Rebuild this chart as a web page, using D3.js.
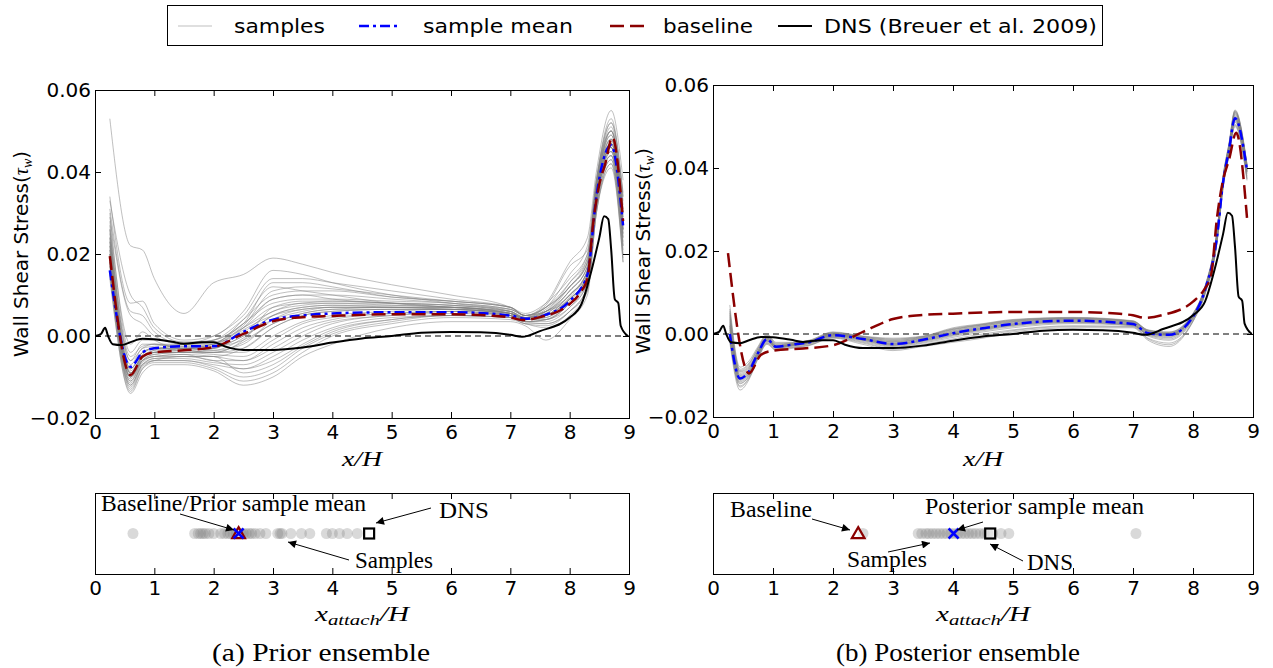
<!DOCTYPE html>
<html><head><meta charset="utf-8">
<script src="https://cdn.jsdelivr.net/npm/d3@7"></script>
<style>body{margin:0;background:#fff}svg{display:block}</style>
</head><body>
<script>
// ================= DATA =================
const xTicks = [0,1,2,3,4,5,6,7,8,9];
const yTicks = [-0.02, 0, 0.02, 0.04, 0.06];
const legendLabels = ["samples", "sample mean", "baseline", "DNS (Breuer et al. 2009)"];
const Y_UNIT = 1e-3; // all wall-shear-stress arrays below are given in units of 1e-3

// prior ensemble (x/H grid shared by samples and sample mean)
const priorGridX = [0.25, 0.6, 0.8, 1.0, 1.5, 2.0, 2.5, 3.0, 3.5, 4.0, 5.0, 6.0, 7.0, 7.25, 7.6, 8.0, 8.3, 8.45, 8.7, 8.9];
const priorSamples = [
  [53, 22, 21, 14, 5.5, 13, 15, 19, 17.5, 15.5, 12.5, 10, 7, 5, 7, 15, 22, 38, 52, 35],
  [34, 8, 8.5, 3, -1, 0, 6, 16, 15, 13, 10, 8, 6, 4, 6, 13, 20, 36, 50, 30],
  [31, 6, 5, 1, -2, -1, 3, 13, 13, 12, 9.5, 8.5, 7, 5, 8, 18, 24, 40, 55, 38],
  [28, -2, 1, -1, -3, -2, 4, 12, 11, 10, 8, 7, 6, 4.5, 7, 12, 18, 35, 48, 26],
  [26, -6, -2, -2, -3, -3, 2, 9, 10, 9, 8, 7.5, 6, 4, 5, 10, 16, 34, 47, 29],
  [24, -8, -4, -3, -3.5, -4, -1, 7, 8.5, 8.5, 8, 7, 5.5, 4, 6, 9, 15, 33, 46, 25],
  [22, -9, -5, -4, -4, -3, 0, 5, 7, 7.5, 7, 6.5, 5.5, 4.5, 5.5, 11, 17, 37, 50, 31],
  [20, -10, -6, -5, -5, -5, -3, 2, 5, 6, 6.5, 6.5, 5, 4, 4, 8, 14, 32, 45, 24],
  [19, -11, -6.5, -5, -4.5, -6, -6, -2, 2, 4, 5.5, 6, 5, 3.5, 4, 7, 13, 33, 44, 22],
  [18, -12, -7, -6, -6, -7, -8, -5, -1, 2, 4.5, 5, 4.5, 3, 3, 6, 12, 31, 43, 20],
  [17, -13, -8, -6.5, -6.5, -8, -11, -9, -4, 0, 3, 4.5, 4, 3, 2, 5, 11, 30, 42, 19],
  [15, -14, -9, -7, -7, -8.5, -12, -10, -5, -2, 2, 3.5, 3.5, 2.5, -1, 4, 10, 30, 41, 18],
  [21, -9.5, -5.5, -4, -3, -2, 3, 8, 9, 9, 8.5, 8, 6.5, 5, 6, 12, 18, 36, 49, 30],
  [23, -8.5, -5, -3.5, -2, -1, 4, 10, 11, 11, 9.5, 8.5, 7, 5, 7, 13, 19, 37, 51, 32],
  [25, -7, -3, -2.5, -2, 0, 5, 14, 14, 13, 11, 9, 7, 5.5, 8, 14, 20, 38, 53, 34],
  [30, -4, -1, -1, -1.5, -1.5, 1, 6, 7.5, 8, 7.5, 7, 6, 4.5, 5, 9, 15, 33, 46, 27],
  [27, -5, -2.5, -2, -2.5, -2.5, -1, 3, 5.5, 6.5, 7, 7, 5.5, 4.5, 6, 10, 16, 35, 48, 28],
  [20, -10.5, -6, -4.5, -4, -4, -4, 0, 3.5, 5, 6, 6.5, 5.5, 4, 5, 9, 14, 34, 46, 26],
  [18, -11.5, -7, -5.5, -5.5, -6.5, -7, -4, 0, 3, 5, 5.5, 5, 3.5, 3.5, 7, 13, 32, 44, 23],
  [16, -12.5, -7.5, -6, -5, -5, -9, -7, -2.5, 1, 4, 5, 4.5, 3, 2.5, 6, 12, 31, 43, 21],
  [14, -13.5, -8, -6, -6, -7.5, -10, -8, -3, 0.5, 3.5, 5, 4.5, 3.5, 4, 8, 13, 33, 45, 24],
  [19, -10, -5, -3.5, -3, -3.5, -2, 4, 6.5, 7, 7, 7, 5.5, 4, 5.5, 10, 16, 35, 47, 28],
  [22, -9, -4.5, -3, -2.5, -2, 2, 6, 8, 8, 8, 7.5, 6, 4.5, 6, 11, 17, 36, 48, 29],
  [17, -11, -6, -4.5, -4, -4.5, -5, -1, 3, 4.5, 5.5, 6, 5, 4, 4.5, 9, 15, 34, 45, 25],
  [24, -8, -4, -3, -3, -3, 1.5, 5, 6.5, 7, 7, 6.5, 5.5, 4.5, 5, 9.5, 16, 35, 47, 27],
  [29, 5, 3, 0, -2, -2, 2, 7, 8, 8.5, 8, 7.5, 6.5, 5, 7, 12, 19, 37, 50, 31],
  [33, 10, 7, 2, -1.5, -1, 3, 9, 10, 10, 9, 8, 6.5, 5, 6, 11, 17, 36, 49, 30],
  [21, -9, -5, -4, -3.5, -3, 0, 4, 6, 7, 7, 7, 5.5, 4, 5, 10, 15, 34, 46, 26],
  [20, -10, -5.5, -4, -3.5, -4, -3, 2, 5, 6, 6.5, 6.5, 5.5, 4.5, 6.5, 12, 18, 36, 50, 33],
  [18, -10, -6, -5, -4.5, -5, -6, -3, 1, 3.5, 5, 6, 5, 3.5, 3, 6, 11, 30, 42, 18],
  [26, -6, -3, -2, -2, -1.5, 2.5, 11, 12, 11.5, 10, 8.5, 7, 5, 7.5, 17, 21, 38, 52, 34],
  [23, -8, -4, -3, -3, -3.5, -0.5, 5, 7, 7.5, 7.5, 7, 5.5, 4, 5, 9, 15, 34, 47, 27],
  [15, -12, -7, -5.5, -5, -6, -8, -6, -2, 1.5, 4, 5, 4.5, 3.5, 4, 8, 14, 33, 44, 22],
  [19, -9, -5, -4, -4, -4, -1.5, 3, 5.5, 6.5, 6.5, 6.5, 5, 4, 4.5, 8.5, 15, 34, 46, 26]
];
const priorMean = [16, -7.5, -4, -3, -2.5, -2.5, 1, 4, 5, 5.5, 5.8, 5.8, 5.0, 4.2, 5.2, 8.5, 15, 34, 46.5, 27];

// baseline (same in both panels)
const baselineX = [0.25, 0.6, 0.8, 1.0, 1.5, 2.0, 2.5, 3.0, 3.5, 4.0, 5.0, 6.0, 6.5, 7.0, 7.2, 7.5, 8.0, 8.2, 8.3, 8.4, 8.5, 8.6, 8.72, 8.9];
const baselineY = [19.5, -9.5, -5, -4, -3.5, -2.7, 0.5, 3.6, 4.6, 4.9, 5.3, 5.3, 5.1, 4.5, 3.9, 4.6, 7.8, 11, 14, 28, 37, 42, 48.5, 28];

// DNS (Breuer et al. 2009)
const dnsX = [0, 0.1, 0.17, 0.22, 0.3, 0.45, 0.6, 0.8, 1.0, 1.3, 1.5, 1.8, 2.0, 2.2, 2.5, 3.0, 3.5, 4.0, 4.5, 5.0, 5.5, 6.0, 6.5, 7.0, 7.2, 7.5, 8.0, 8.2, 8.35, 8.5, 8.58, 8.65, 8.7, 8.76, 8.82, 8.86, 8.98];
const dnsY = [0, 0.5, 2, 0, -2, -2.2, -1.5, -0.7, -0.8, -1.4, -1.9, -1.5, -1.5, -2.6, -3.4, -3.4, -2.8, -1.6, -0.6, 0, 0.8, 1.0, 0.9, 0.3, -0.2, 1.2, 4.5, 7.8, 15, 24, 29.2, 28.5, 21, 9, 8, 2.5, 0];

// posterior ensemble
const postGridX = [0.28, 0.45, 0.6, 0.75, 0.9, 1.05, 1.3, 1.6, 2.0, 2.5, 3.0, 3.5, 4.0, 4.5, 5.0, 6.0, 7.0, 7.25, 7.6, 8.0, 8.2, 8.4, 8.5, 8.6, 8.7, 8.9];
const postSamples = [
  [7, -8, -6.5, -3, 0, -2, -2, -1.5, 0.5, -0.5, -1, -0.5, 1.5, 2.5, 3.5, 4, 3.2, 1, 0.5, 5, 11.5, 25, 38, 46, 54, 41],
  [5, -9, -7.5, -3.5, -0.5, -2.5, -2.3, -1.8, 0.2, -0.8, -1.5, -0.8, 1, 2.2, 3.2, 3.8, 3, 0.8, 0.2, 4.8, 11.2, 24.5, 37.5, 45.5, 53.5, 40.5],
  [3, -10, -8.5, -4, -1, -3, -2.5, -2, 0, -1, -2, -1, 0.5, 1.8, 2.8, 3.5, 2.8, 0.5, 0, 4.5, 11, 24, 37, 45, 53, 40],
  [1, -11, -9.5, -5, -1.5, -3.2, -2.7, -2.1, -0.4, -1.3, -2.6, -1.6, 0, 1.2, 2.2, 3, 2.2, 0, -0.5, 4, 10.5, 23, 36, 44, 51.5, 39],
  [-1, -12, -10, -5.5, -2, -3.5, -3, -2.4, -0.7, -1.8, -3.2, -2.2, -0.8, 0.5, 1.5, 2.5, 2, -0.5, -1.5, 3.5, 10, 22.5, 35.5, 43.5, 51, 38],
  [-2, -13.5, -11, -6, -2.5, -4, -3.5, -2.8, -1, -2.5, -4, -3, -2, -1, 0.5, 1.5, 1.5, -1.5, -3, 3, 9.5, 22, 35, 43, 50, 37],
  [4, -9.5, -8, -4.2, -0.8, -2.8, -2.4, -1.9, 0.1, -0.9, -1.8, -0.9, 0.8, 2, 3, 3.7, 2.9, 0.7, 0.1, 4.6, 11, 24.2, 37.2, 45.2, 53.2, 40.2],
  [2, -10.5, -9, -4.6, -1.3, -3.1, -2.6, -2, -0.2, -1.1, -2.3, -1.3, 0.3, 1.5, 2.5, 3.3, 2.5, 0.3, -0.3, 4.2, 10.7, 23.6, 36.5, 44.5, 52.3, 39.7],
  [0, -11.5, -9.8, -5.2, -1.7, -3.3, -2.8, -2.2, -0.5, -1.5, -2.8, -1.8, -0.3, 1, 2, 2.8, 2.1, -0.2, -0.9, 3.8, 10.3, 23, 36, 44, 51.8, 39.2],
  [-1.5, -12.5, -10.5, -5.7, -2.2, -3.7, -3.2, -2.6, -0.8, -2, -3.5, -2.5, -1.2, 0, 1, 2, 1.8, -1, -2.2, 3.2, 9.8, 22.3, 35.3, 43.3, 50.5, 37.5],
  [6, -8.5, -7, -3.3, -0.2, -2.2, -2.1, -1.6, 0.4, -0.6, -1.2, -0.6, 1.3, 2.4, 3.4, 3.9, 3.1, 0.9, 0.4, 4.9, 11.3, 24.8, 37.8, 45.8, 53.8, 40.8],
  [3.5, -9.8, -8.2, -4.3, -0.9, -2.9, -2.5, -1.9, 0, -1, -1.9, -1, 0.7, 1.9, 2.9, 3.6, 2.7, 0.6, 0, 4.4, 10.9, 23.8, 36.8, 44.8, 52.8, 39.8],
  [1.5, -10.8, -9.3, -4.8, -1.4, -3.2, -2.7, -2.1, -0.3, -1.2, -2.5, -1.5, 0.1, 1.3, 2.3, 3.1, 2.3, 0.1, -0.4, 4.1, 10.6, 23.4, 36.3, 44.3, 52, 39.3],
  [-0.5, -11.8, -10.2, -5.3, -1.8, -3.4, -2.9, -2.3, -0.6, -1.6, -3, -2, -0.5, 0.8, 1.8, 2.7, 2, -0.3, -1.2, 3.7, 10.2, 22.8, 35.8, 43.8, 51.3, 38.6],
  [2.5, -10.2, -8.7, -4.5, -1.1, -3, -2.6, -2, -0.1, -1.1, -2.2, -1.2, 0.4, 1.6, 2.6, 3.4, 2.6, 0.4, -0.1, 4.3, 10.8, 23.7, 36.6, 44.6, 52.5, 39.9],
  [0.5, -11.2, -9.6, -5, -1.6, -3.3, -2.8, -2.2, -0.4, -1.4, -2.7, -1.7, -0.2, 1.1, 2.1, 2.9, 2.2, -0.1, -0.7, 3.9, 10.4, 23.2, 36.2, 44.2, 51.7, 39],
  [4.5, -9.2, -7.8, -4, -0.7, -2.7, -2.3, -1.8, 0.2, -0.7, -1.6, -0.7, 1.1, 2.2, 3.1, 3.7, 2.9, 0.6, -0.2, 4.6, 11.1, 24.4, 37.4, 45.4, 53.4, 40.4],
  [-1, -12.8, -10.7, -5.8, -2.3, -3.8, -3.3, -2.7, -0.9, -2.2, -3.7, -2.7, -1.5, -0.4, 0.8, 1.8, 1.7, -1.2, -2.6, 3.1, 9.7, 22.2, 35.2, 43.2, 50.3, 37.3],
  [2, -10.4, -9.1, -4.7, -1.2, -3, -2.6, -2, -0.2, -1.2, -2.4, -1.4, 0.2, 1.4, 2.4, 3.2, 2.4, 0.2, -0.2, 4.2, 10.6, 23.5, 36.4, 44.4, 52.1, 39.5],
  [5.5, -8.8, -7.2, -3.6, -0.4, -2.4, -2.2, -1.7, 0.3, -0.6, -1.3, -0.6, 1.2, 2.3, 3.3, 3.9, 3.1, 0.9, 0.3, 4.8, 11.4, 24.7, 37.7, 45.7, 53.7, 40.7]
];
const postMean = [0, -10.7, -9, -4.6, -1.2, -3.1, -2.6, -2, -0.3, -1.2, -2.4, -1.4, 0.2, 1.4, 2.4, 3.2, 2.4, 0.2, -0.2, 4.2, 10.6, 23.4, 36.4, 44.3, 52, 39.5];

// reattachment points x_attach/H
const priorAttach = [0.64, 1.68, 1.74, 1.78, 1.82, 1.86, 1.92, 2.0, 2.12, 2.18, 2.24, 2.28, 2.33, 2.38, 2.42, 2.46, 2.5, 2.55, 2.6, 2.64, 2.7, 2.78, 2.88, 3.08, 3.12, 3.15, 3.3, 3.48, 3.62, 3.9, 4.0, 4.12, 4.25, 4.42];
const postAttach = [2.5, 3.42, 3.48, 3.55, 3.6, 3.66, 3.72, 3.78, 3.84, 3.9, 3.96, 4.02, 4.08, 4.14, 4.2, 4.26, 4.32, 4.38, 4.45, 4.52, 4.58, 4.66, 4.8, 4.93, 7.05];
const baselineAttach = 2.42;
const priorMeanAttach = 2.42;
const postMeanAttach = 4.01;
const dnsAttach = 4.62;

// ================= DRAWING =================
const SANS = "'DejaVu Sans', sans-serif";
const SERIF = "'Liberation Serif', serif";
const C_GREY = "#808080", C_BLUE = "#0000ff", C_RED = "#8b0000", C_BLACK = "#000";
const DASH_MEAN = "10,4,3,4", DASH_BASE = "14,6";

const svg = d3.select("body").append("svg").attr("width", 1273).attr("height", 668);
const defs = svg.append("defs");
defs.append("marker").attr("id", "arr").attr("viewBox", "0 0 10 10")
  .attr("refX", 10).attr("refY", 5).attr("markerWidth", 10).attr("markerHeight", 8)
  .attr("markerUnits", "userSpaceOnUse").attr("orient", "auto")
  .append("path").attr("d", "M0,0L10,5L0,10z").attr("fill", "#000");

function styleAxis(g, size) {
  g.attr("font-size", size).attr("font-family", SANS);
  g.select(".domain").remove();
  g.selectAll("text").attr("fill", "#000");
  g.selectAll("line").attr("stroke", "#000");
}

function frameAndAxes(box, x, y) {
  const gB = svg.append("g").attr("transform", `translate(0,${box.y1})`)
    .call(d3.axisBottom(x).tickValues(xTicks).tickSize(-6).tickPadding(7).tickFormat(d3.format("d")));
  styleAxis(gB, 20);
  const gT = svg.append("g").attr("transform", `translate(0,${box.y0})`)
    .call(d3.axisTop(x).tickValues(xTicks).tickSize(-6).tickFormat(""));
  styleAxis(gT, 20);
  if (y) {
    const gL = svg.append("g").attr("transform", `translate(${box.x0},0)`)
      .call(d3.axisLeft(y).tickValues(yTicks).tickSize(-6).tickPadding(4).tickFormat(d3.format(".2f")));
    styleAxis(gL, 20);
    const gR = svg.append("g").attr("transform", `translate(${box.x1},0)`)
      .call(d3.axisRight(y).tickValues(yTicks).tickSize(-6).tickFormat(""));
    styleAxis(gR, 20);
  }
  svg.append("rect").attr("x", box.x0 + 0.5).attr("y", box.y0 + 0.5)
    .attr("width", box.x1 - box.x0).attr("height", box.y1 - box.y0)
    .attr("fill", "none").attr("stroke", "#000").attr("stroke-width", 1);
}

function drawMain(box, clipId, sampleX, samples, meanX, meanY, ylabX) {
  const x = d3.scaleLinear().domain([0, 9]).range([box.x0, box.x1]);
  const y = d3.scaleLinear().domain([-0.02, 0.06]).range([box.y1, box.y0]);
  defs.append("clipPath").attr("id", clipId).append("rect")
    .attr("x", box.x0).attr("y", box.y0).attr("width", box.x1 - box.x0).attr("height", box.y1 - box.y0);
  const plot = svg.append("g").attr("clip-path", `url(#${clipId})`);
  const mk = xs => d3.line().x((d, i) => x(xs[i])).y(d => y(d * Y_UNIT)).curve(d3.curveMonotoneX);

  plot.append("line").attr("x1", x(0)).attr("x2", x(9)).attr("y1", y(0)).attr("y2", y(0))
    .attr("stroke", "#000").attr("stroke-width", 1).attr("stroke-dasharray", "6,4");
  plot.append("g").selectAll("path").data(samples).join("path")
    .attr("d", mk(sampleX)).attr("fill", "none").attr("stroke", C_GREY)
    .attr("stroke-opacity", 0.5).attr("stroke-width", 1);
  plot.append("path").datum(meanY).attr("d", mk(meanX)).attr("fill", "none")
    .attr("stroke", C_BLUE).attr("stroke-width", 2.5).attr("stroke-dasharray", DASH_MEAN);
  plot.append("path").datum(baselineY).attr("d", mk(baselineX)).attr("fill", "none")
    .attr("stroke", C_RED).attr("stroke-width", 2.5).attr("stroke-dasharray", DASH_BASE);
  plot.append("path").datum(dnsY).attr("d", mk(dnsX)).attr("fill", "none")
    .attr("stroke", C_BLACK).attr("stroke-width", 2);

  frameAndAxes(box, x, y);

  // x label
  svg.append("text").attr("x", (box.x0 + box.x1) / 2).attr("y", 466).attr("text-anchor", "middle")
    .attr("font-family", SERIF).attr("font-style", "italic").attr("font-size", 21)
    .attr("textLength", 40).attr("lengthAdjust", "spacingAndGlyphs").text("x/H");
  // y label
  const yl = svg.append("text").attr("transform", `translate(${ylabX},${(box.y0 + box.y1) / 2}) rotate(-90)`)
    .attr("text-anchor", "middle").attr("font-family", SANS).attr("font-size", 20);
  yl.append("tspan").text("Wall Shear Stress(");
  yl.append("tspan").attr("font-family", SERIF).attr("font-style", "italic").text("τ");
  yl.append("tspan").attr("font-family", SERIF).attr("font-style", "italic").attr("font-size", 14)
    .attr("dy", 4).text("w");
  yl.append("tspan").attr("dy", -4).text(")");
}

function drawStrip(box, clipId, pts, meanAttach, annotations) {
  const x = d3.scaleLinear().domain([0, 9]).range([box.x0, box.x1]);
  const y = d3.scaleLinear().domain([-1, 1]).range([box.y1, box.y0]);
  defs.append("clipPath").attr("id", clipId).append("rect")
    .attr("x", box.x0).attr("y", box.y0).attr("width", box.x1 - box.x0).attr("height", box.y1 - box.y0);
  const plot = svg.append("g").attr("clip-path", `url(#${clipId})`);
  plot.append("g").selectAll("circle").data(pts).join("circle")
    .attr("cx", d => x(d)).attr("cy", y(0)).attr("r", 5.5)
    .attr("fill", C_GREY).attr("fill-opacity", 0.3);
  // baseline triangle
  const tri = d3.symbol().type(d3.symbolTriangle).size(70);
  plot.append("path").attr("d", tri()).attr("transform", `translate(${x(baselineAttach)},${y(0) + 1})`)
    .attr("fill", "#fff").attr("fill-opacity", 0.6).attr("stroke", C_RED).attr("stroke-width", 2.2);
  // DNS square
  plot.append("rect").attr("x", x(dnsAttach) - 5).attr("y", y(0) - 5).attr("width", 10).attr("height", 10)
    .attr("fill", "#fff").attr("fill-opacity", 0.6).attr("stroke", "#000").attr("stroke-width", 2.2);
  // mean cross
  const cx = x(meanAttach), cy = y(0), s = 5;
  plot.append("path").attr("d", `M${cx - s},${cy - s}L${cx + s},${cy + s}M${cx - s},${cy + s}L${cx + s},${cy - s}`)
    .attr("stroke", C_BLUE).attr("stroke-width", 2.5).attr("fill", "none");

  frameAndAxes(box, x, null);

  // annotations
  annotations.forEach(a => {
    svg.append("text").attr("x", a.tx).attr("y", a.ty).attr("font-family", SERIF).attr("font-size", 23)
      .attr("textLength", a.tl).attr("lengthAdjust", "spacingAndGlyphs").text(a.text);
    svg.append("line").attr("x1", a.ax1).attr("y1", a.ay1).attr("x2", a.ax2).attr("y2", a.ay2)
      .attr("stroke", "#000").attr("stroke-width", 1).attr("marker-end", "url(#arr)");
  });

  // x_attach/H label
  const xl = svg.append("text").attr("x", (box.x0 + box.x1) / 2).attr("y", 621).attr("text-anchor", "middle")
    .attr("font-family", SERIF).attr("font-style", "italic").attr("font-size", 21)
    .attr("textLength", 94).attr("lengthAdjust", "spacingAndGlyphs");
  xl.append("tspan").text("x");
  xl.append("tspan").attr("font-size", 15).attr("dy", 4).text("attach");
  xl.append("tspan").attr("dy", -4).text("/H");
}

const priorBox = {x0: 95, x1: 629, y0: 90, y1: 418};
const postBox = {x0: 713, x1: 1253, y0: 85, y1: 417};
drawMain(priorBox, "clipPrior", priorGridX, priorSamples, priorGridX, priorMean, 28);
drawMain(postBox, "clipPost", postGridX, postSamples, postGridX, postMean, 650);

drawStrip({x0: 95, x1: 629, y0: 493, y1: 574}, "clipS1", priorAttach, priorMeanAttach, [
  {text: "Baseline/Prior sample mean", tx: 101, ty: 511, tl: 265, ax1: 180, ay1: 514, ax2: 234, ay2: 530},
  {text: "DNS", tx: 439, ty: 518, tl: 50, ax1: 431, ay1: 508, ax2: 376, ay2: 523},
  {text: "Samples", tx: 355, ty: 568, tl: 78, ax1: 349, ay1: 560, ax2: 288, ay2: 542}
]);
drawStrip({x0: 713, x1: 1253, y0: 493, y1: 574}, "clipS2", postAttach, postMeanAttach, [
  {text: "Baseline", tx: 730, ty: 517, tl: 82, ax1: 812, ay1: 519, ax2: 850, ay2: 530},
  {text: "Posterior sample mean", tx: 925, ty: 514, tl: 219, ax1: 983, ay1: 522, ax2: 957, ay2: 530},
  {text: "Samples", tx: 847, ty: 567, tl: 80, ax1: 888, ay1: 552, ax2: 930, ay2: 543},
  {text: "DNS", tx: 1027, ty: 570, tl: 46, ax1: 1023, ay1: 561, ax2: 990, ay2: 544}
]);

// captions
svg.append("text").attr("x", 212).attr("y", 661).attr("font-family", SERIF).attr("font-size", 26)
  .attr("textLength", 218).attr("lengthAdjust", "spacingAndGlyphs").text("(a) Prior ensemble");
svg.append("text").attr("x", 836).attr("y", 661).attr("font-family", SERIF).attr("font-size", 26)
  .attr("textLength", 244).attr("lengthAdjust", "spacingAndGlyphs").text("(b) Posterior ensemble");

// legend
const lg = svg.append("g");
lg.append("rect").attr("x", 167.5).attr("y", 5.5).attr("width", 935).attr("height", 40)
  .attr("fill", "#fff").attr("stroke", "#000").attr("stroke-width", 1);
const legendStyles = [
  {x1: 178, x2: 212, tx: 234, tl: 91, stroke: C_GREY, op: 0.5, w: 1, dash: null},
  {x1: 359, x2: 399, tx: 423, tl: 150, stroke: C_BLUE, op: 1, w: 2.5, dash: DASH_MEAN},
  {x1: 610, x2: 644, tx: 663, tl: 90, stroke: C_RED, op: 1, w: 2.5, dash: DASH_BASE},
  {x1: 778, x2: 812, tx: 824, tl: 273, stroke: C_BLACK, op: 1, w: 2, dash: null}
];
legendLabels.forEach((lab, i) => {
  const st = legendStyles[i];
  lg.append("line").attr("x1", st.x1).attr("x2", st.x2).attr("y1", 26).attr("y2", 26)
    .attr("stroke", st.stroke).attr("stroke-opacity", st.op).attr("stroke-width", st.w)
    .attr("stroke-dasharray", st.dash);
  lg.append("text").attr("x", st.tx).attr("y", 33).attr("font-family", SANS).attr("font-size", 20)
    .attr("textLength", st.tl).attr("lengthAdjust", "spacingAndGlyphs").text(lab);
});
</script>
</body></html>
